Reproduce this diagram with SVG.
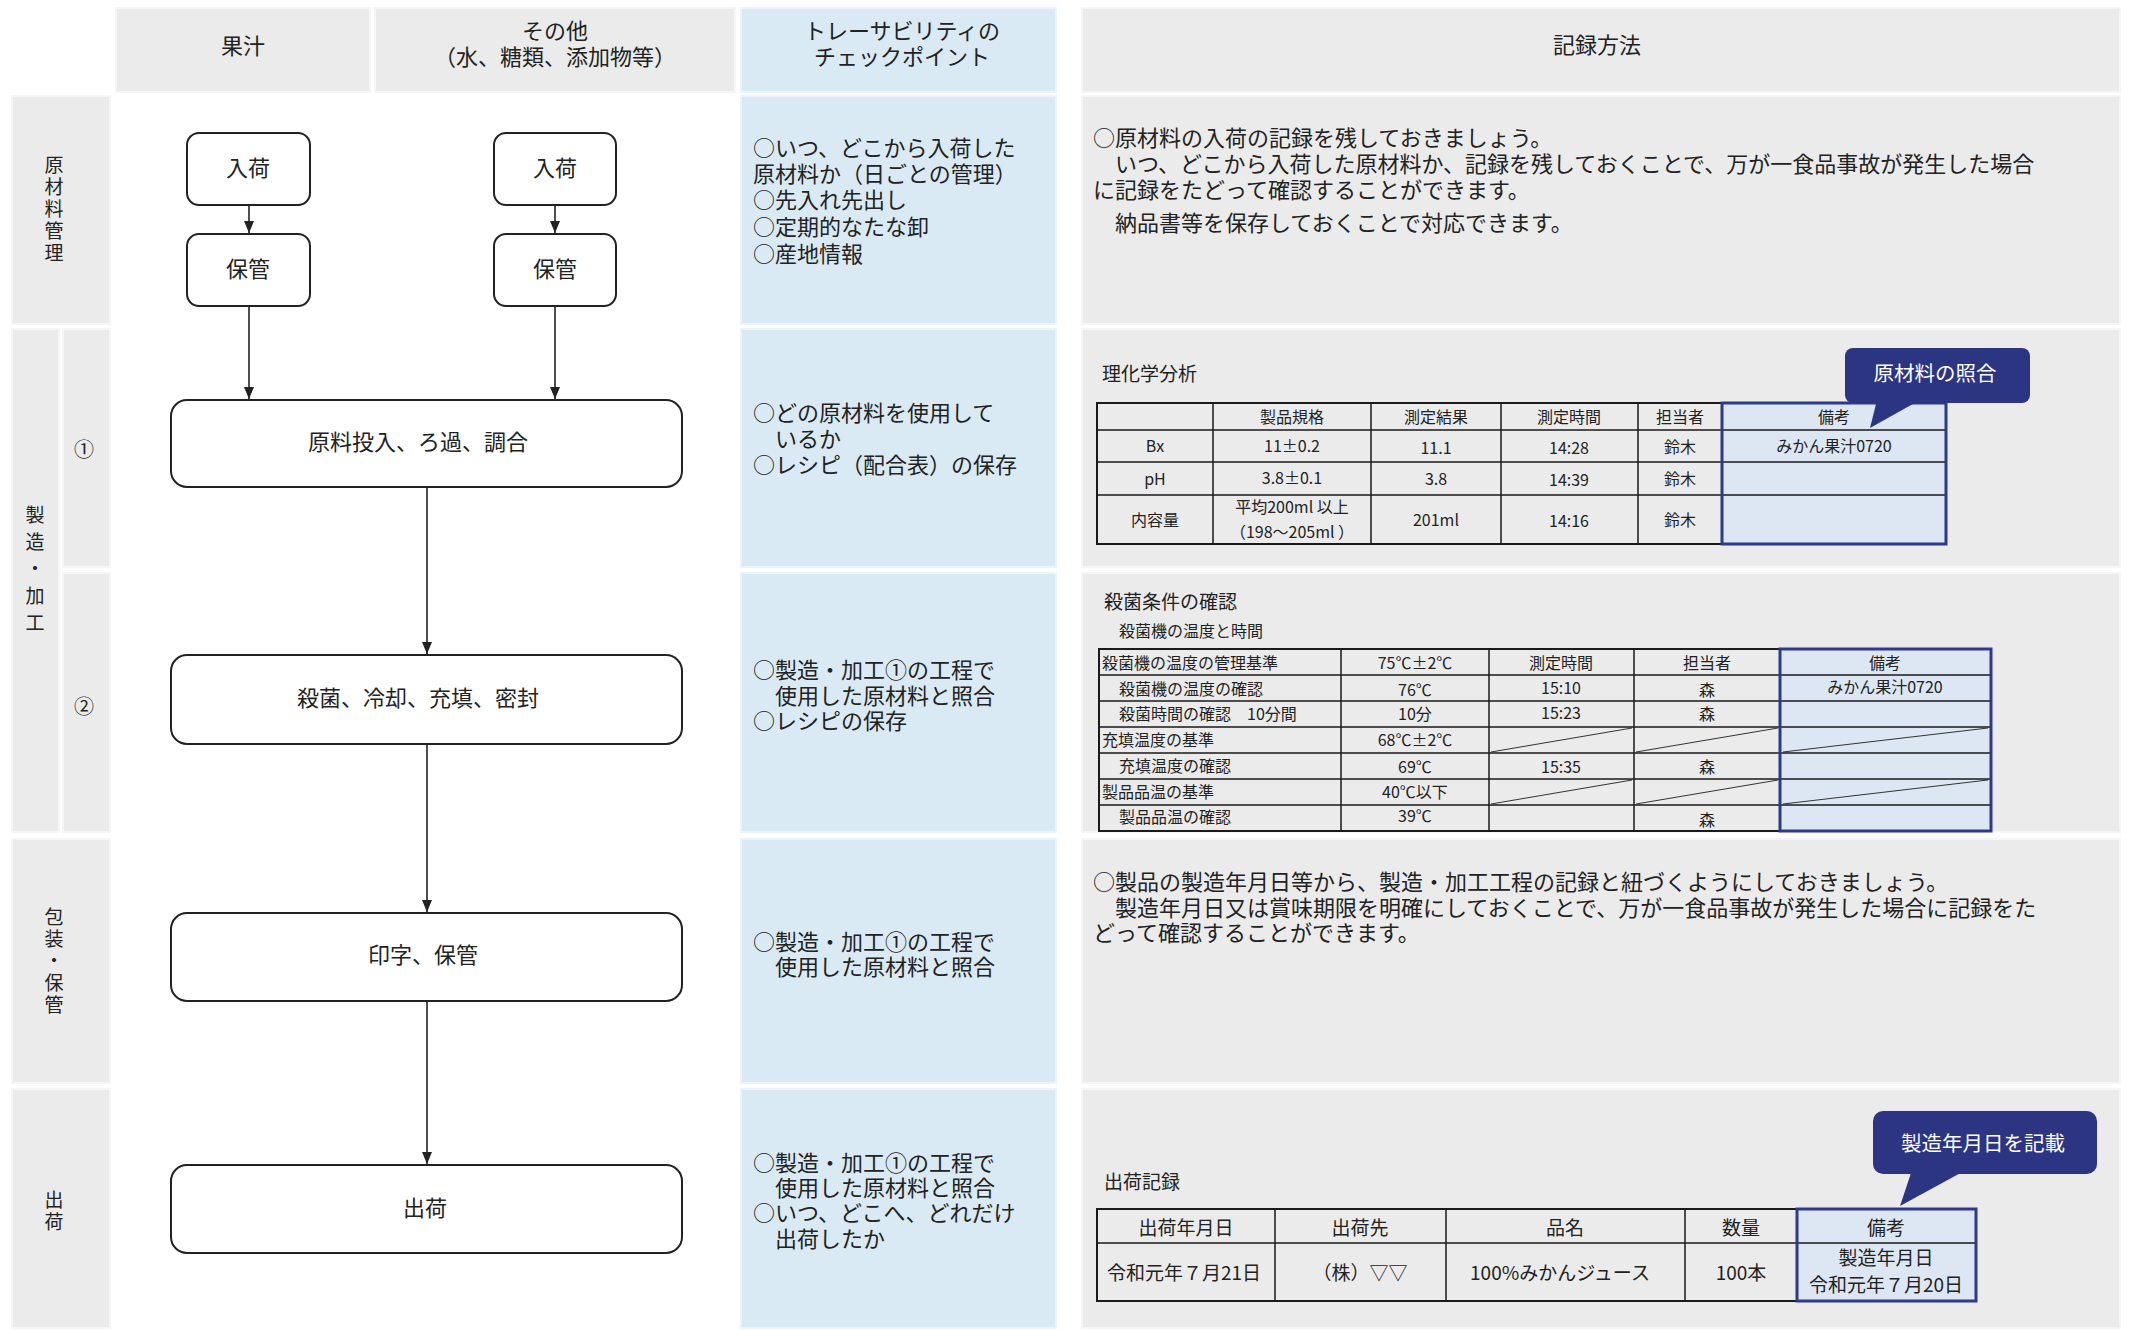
<svg xmlns="http://www.w3.org/2000/svg" width="2134" height="1330" viewBox="0 0 2134 1330">
<style>
text{font-family:"Noto Sans CJK JP","Noto Sans",sans-serif;fill:#222;dominant-baseline:central}
.g{fill:#ebebeb;stroke:#f6f6f6;stroke-width:2}
.b{fill:#daeaf4;stroke:#eaf4fa;stroke-width:2}
.node{fill:#fff;stroke:#222;stroke-width:2}
.c{text-anchor:middle}
.f20{font-size:20px}
.f22{font-size:22px}
.fv{font-size:19px}
.f16{font-size:16px}
.f19{font-size:19px}
.f20b{font-size:20.5px}
.tl{stroke:#1a1a1a;stroke-width:1.5;fill:none}
.to{stroke:#1a1a1a;stroke-width:2;fill:none}
.nv{fill:none;stroke:#2d3a8c;stroke-width:3}
.bl{fill:#dce7f3}
.dg{stroke:#333;stroke-width:1}
.co{fill:#2c3582}
.wt{fill:#fff}
.cn{stroke:#222;stroke-width:1.6;fill:none;marker-end:url(#ah)}
</style>
<defs>
<marker id="ah" viewBox="0 0 12 10" refX="12" refY="5" markerWidth="12" markerHeight="10" markerUnits="userSpaceOnUse" orient="auto"><path d="M0,0 L12,5 L0,10 z" fill="#222"/></marker>
</defs>
<rect width="2134" height="1330" fill="#fff"/>

<g id="headers">
<rect class="g" x="116" y="8" width="254" height="84"/>
<text class="c f22" x="243" y="44">果汁</text>
<rect class="g" x="375" y="8" width="360" height="84"/>
<text class="c f22" x="555" y="29">その他</text>
<text class="c f22" x="555" y="55">（水、糖類、添加物等）</text>
<rect class="b" x="741" y="8" width="315" height="84"/>
<text class="c f22" x="902" y="29">トレーサビリティの</text>
<text class="c f22" x="902" y="55">チェックポイント</text>
<rect class="g" x="1082" y="8" width="1038" height="84"/>
<text class="c f22" x="1597" y="43">記録方法</text>
</g>

<g id="row-labels">
<rect class="g" x="12" y="96" width="98" height="228"/>
<text class="c fv"><tspan x="54" y="163">原</tspan><tspan x="54" y="185">材</tspan><tspan x="54" y="207">料</tspan><tspan x="54" y="229">管</tspan><tspan x="54" y="251">理</tspan></text>
<rect class="g" x="12" y="329" width="47" height="503"/>
<text class="c fv"><tspan x="35" y="513">製</tspan><tspan x="35" y="540">造</tspan><tspan x="35" y="567">・</tspan><tspan x="35" y="594">加</tspan><tspan x="35" y="621">工</tspan></text>
<rect class="g" x="63" y="329" width="47" height="238"/>
<text class="c f20" x="84" y="448">①</text>
<rect class="g" x="63" y="573" width="47" height="259"/>
<text class="c f20" x="84" y="705">②</text>
<rect class="g" x="12" y="839" width="98" height="244"/>
<text class="c fv"><tspan x="54" y="915">包</tspan><tspan x="54" y="937">装</tspan><tspan x="54" y="959">・</tspan><tspan x="54" y="981">保</tspan><tspan x="54" y="1003">管</tspan></text>
<rect class="g" x="12" y="1089" width="98" height="239"/>
<text class="c fv"><tspan x="54" y="1198">出</tspan><tspan x="54" y="1220">荷</tspan></text>
</g>

<g id="checkpoints">
<rect class="b" x="741" y="96" width="315" height="228"/>
<text class="f22"><tspan x="753" y="146">○いつ、どこから入荷した</tspan><tspan x="753" y="172">原材料か（日ごとの管理）</tspan><tspan x="753" y="198">○先入れ先出し</tspan><tspan x="753" y="225">○定期的なたな卸</tspan><tspan x="753" y="252">○産地情報</tspan></text>
<rect class="b" x="741" y="329" width="315" height="238"/>
<text class="f22"><tspan x="753" y="411">○どの原材料を使用して</tspan><tspan x="753" y="437">　いるか</tspan><tspan x="753" y="463">○レシピ（配合表）の保存</tspan></text>
<rect class="b" x="741" y="573" width="315" height="259"/>
<text class="f22"><tspan x="753" y="668">○製造・加工①の工程で</tspan><tspan x="753" y="694">　使用した原材料と照合</tspan><tspan x="753" y="719">○レシピの保存</tspan></text>
<rect class="b" x="741" y="839" width="315" height="244"/>
<text class="f22"><tspan x="753" y="940">○製造・加工①の工程で</tspan><tspan x="753" y="965">　使用した原材料と照合</tspan></text>
<rect class="b" x="741" y="1089" width="315" height="239"/>
<text class="f22"><tspan x="753" y="1161">○製造・加工①の工程で</tspan><tspan x="753" y="1186">　使用した原材料と照合</tspan><tspan x="753" y="1211">○いつ、どこへ、どれだけ</tspan><tspan x="753" y="1237">　出荷したか</tspan></text>
</g>

<g id="records">
<rect class="g" x="1082" y="96" width="1038" height="228"/>
<text class="f22"><tspan x="1093" y="136">○原材料の入荷の記録を残しておきましょう。</tspan><tspan x="1093" y="162">　いつ、どこから入荷した原材料か、記録を残しておくことで、万が一食品事故が発生した場合</tspan><tspan x="1093" y="188">に記録をたどって確認することができます。</tspan><tspan x="1093" y="221">　納品書等を保存しておくことで対応できます。</tspan></text>

<rect class="g" x="1082" y="329" width="1038" height="238"/>
<text class="f19" x="1102" y="372">理化学分析</text>
<g id="table-analysis">
<rect class="bl" x="1722" y="403" width="224" height="141"/>
<rect class="to" x="1097" y="403" width="849" height="141"/>
<path class="tl" d="M1213,403V544M1371,403V544M1501,403V544M1638,403V544M1097,430H1946M1097,462H1946M1097,495H1946"/>
<rect class="nv" x="1722" y="403" width="224" height="141"/>
<g class="f16">
<text class="c" x="1292" y="416">製品規格</text><text class="c" x="1436" y="416">測定結果</text><text class="c" x="1569" y="416">測定時間</text><text class="c" x="1680" y="416">担当者</text><text class="c" x="1834" y="416">備考</text>
<text class="c" x="1155" y="445">Bx</text><text class="c" x="1292" y="445">11±0.2</text><text class="c" x="1436" y="447">11.1</text><text class="c" x="1569" y="447">14:28</text><text class="c" x="1680" y="446">鈴木</text><text class="c" x="1834" y="445">みかん果汁0720</text>
<text class="c" x="1155" y="478">pH</text><text class="c" x="1292" y="477">3.8±0.1</text><text class="c" x="1436" y="478">3.8</text><text class="c" x="1569" y="479">14:39</text><text class="c" x="1680" y="478">鈴木</text>
<text class="c" x="1155" y="519">内容量</text><text class="c" x="1292" y="506">平均200ml 以上</text><text class="c" x="1292" y="531">（198～205ml ）</text><text class="c" x="1436" y="519">201ml</text><text class="c" x="1569" y="520">14:16</text><text class="c" x="1680" y="519">鈴木</text>
</g>
</g>
<g id="callout-1">
<rect class="co" x="1845" y="348" width="185" height="55" rx="8"/>
<path class="co" d="M1877,400 L1920,400 L1870,428 z"/>
<text class="c f20b wt" x="1935" y="372">原材料の照合</text>
</g>

<rect class="g" x="1082" y="573" width="1038" height="259"/>
<text class="f19" x="1104" y="600">殺菌条件の確認</text>
<text class="f16" x="1119" y="630">殺菌機の温度と時間</text>
<g id="table-sterilization">
<rect class="bl" x="1780" y="649" width="211" height="182"/>
<rect class="to" x="1099" y="649" width="892" height="182"/>
<path class="tl" d="M1341,649V831M1489,649V831M1634,649V831M1099,675H1991M1099,701H1991M1099,727H1991M1099,753H1991M1099,779H1991M1099,805H1991"/>
<path class="dg" d="M1491,752L1632,728M1636,752L1778,728M1783,752L1988,728M1491,804L1632,780M1636,804L1778,780M1783,804L1988,780"/>
<rect class="nv" x="1780" y="649" width="211" height="182"/>
<g class="f16">
<text x="1102" y="662">殺菌機の温度の管理基準</text><text class="c" x="1415" y="662">75℃±2℃</text><text class="c" x="1561" y="662">測定時間</text><text class="c" x="1707" y="662">担当者</text><text class="c" x="1885" y="662">備考</text>
<text x="1119" y="688">殺菌機の温度の確認</text><text class="c" x="1415" y="689">76℃</text><text class="c" x="1561" y="687">15:10</text><text class="c" x="1707" y="689">森</text><text class="c" x="1885" y="686">みかん果汁0720</text>
<text x="1119" y="713">殺菌時間の確認　10分間</text><text class="c" x="1415" y="713">10分</text><text class="c" x="1561" y="712">15:23</text><text class="c" x="1707" y="713">森</text>
<text x="1102" y="739">充填温度の基準</text><text class="c" x="1415" y="739">68℃±2℃</text>
<text x="1119" y="765">充填温度の確認</text><text class="c" x="1415" y="766">69℃</text><text class="c" x="1561" y="766">15:35</text><text class="c" x="1707" y="766">森</text>
<text x="1102" y="791">製品品温の基準</text><text class="c" x="1415" y="791">40℃以下</text>
<text x="1119" y="816">製品品温の確認</text><text class="c" x="1415" y="815">39℃</text><text class="c" x="1707" y="819">森</text>
</g>
</g>

<rect class="g" x="1082" y="839" width="1038" height="244"/>
<text class="f22"><tspan x="1093" y="880">○製品の製造年月日等から、製造・加工工程の記録と紐づくようにしておきましょう。</tspan><tspan x="1093" y="906">　製造年月日又は賞味期限を明確にしておくことで、万が一食品事故が発生した場合に記録をた</tspan><tspan x="1093" y="931">どって確認することができます。</tspan></text>

<rect class="g" x="1082" y="1089" width="1038" height="239"/>
<text class="f19" x="1104" y="1180">出荷記録</text>
<g id="table-shipping">
<rect class="bl" x="1797" y="1209" width="179" height="92"/>
<rect class="to" x="1097" y="1209" width="879" height="92"/>
<path class="tl" d="M1275,1209V1301M1446,1209V1301M1685,1209V1301M1097,1243H1976"/>
<rect class="nv" x="1797" y="1209" width="179" height="92"/>
<g class="f19">
<text class="c" x="1186" y="1226">出荷年月日</text><text class="c" x="1360" y="1226">出荷先</text><text class="c" x="1565" y="1226">品名</text><text class="c" x="1741" y="1226">数量</text><text class="c" x="1886" y="1226">備考</text>
<text class="c" x="1184" y="1271">令和元年７月21日</text><text class="c" x="1360" y="1271">（株）▽▽</text><text class="c" x="1560" y="1271">100%みかんジュース</text><text class="c" x="1741" y="1271">100本</text>
<text class="c" x="1886" y="1256">製造年月日</text><text class="c" x="1886" y="1283">令和元年７月20日</text>
</g>
</g>
<g id="callout-2">
<rect class="co" x="1873" y="1111" width="224" height="63" rx="10"/>
<path class="co" d="M1912,1170 L1966,1170 L1900,1206 z"/>
<text class="c f20b wt" x="1983" y="1142">製造年月日を記載</text>
</g>
</g>

<g id="node-juice-arrival"><rect class="node" x="187" y="133" width="123" height="72" rx="12"/><text class="c f22" x="248" y="166">入荷</text></g>
<g id="node-juice-storage"><rect class="node" x="187" y="234" width="123" height="72" rx="12"/><text class="c f22" x="248" y="267">保管</text></g>
<g id="node-other-arrival"><rect class="node" x="494" y="133" width="122" height="72" rx="12"/><text class="c f22" x="555" y="166">入荷</text></g>
<g id="node-other-storage"><rect class="node" x="494" y="234" width="122" height="72" rx="12"/><text class="c f22" x="555" y="267">保管</text></g>
<g id="node-mixing"><rect class="node" x="171" y="400" width="511" height="87" rx="16"/><text class="c f22" x="418" y="440">原料投入、ろ過、調合</text></g>
<g id="node-sterilize"><rect class="node" x="171" y="655" width="511" height="89" rx="16"/><text class="c f22" x="418" y="696">殺菌、冷却、充填、密封</text></g>
<g id="node-print"><rect class="node" x="171" y="913" width="511" height="88" rx="16"/><text class="c f22" x="423" y="953">印字、保管</text></g>
<g id="node-ship"><rect class="node" x="171" y="1165" width="511" height="88" rx="16"/><text class="c f22" x="425" y="1206">出荷</text></g>

<g id="connectors">
<path class="cn" d="M249,205V233"/>
<path class="cn" d="M555,205V233"/>
<path class="cn" d="M249,306V399"/>
<path class="cn" d="M555,306V399"/>
<path class="cn" d="M427,487V654"/>
<path class="cn" d="M427,744V912"/>
<path class="cn" d="M427,1001V1164"/>
</g>
</svg>
